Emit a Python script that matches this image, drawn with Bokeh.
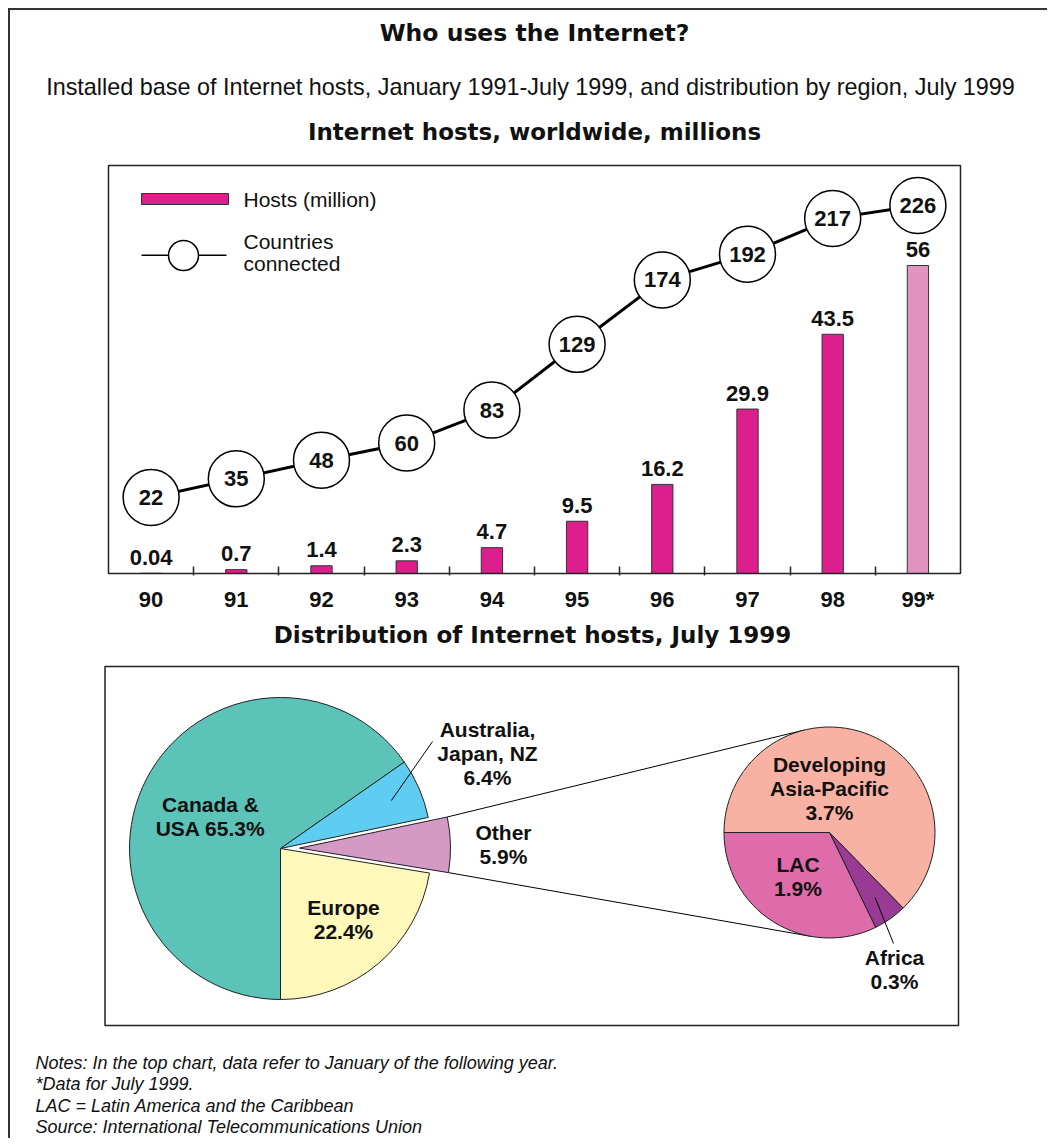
import math
from bokeh.plotting import figure
from bokeh.models import (Range1d, FixedTicker, BoxAnnotation, Arrow, Label, Div,
                          ColumnDataSource)
from bokeh.layouts import row, column
from bokeh.embed import file_html
from bokeh.resources import INLINE
from bokeh.core.properties import value

# ------------------------------------------------------------------ data
years = ["90", "91", "92", "93", "94", "95", "96", "97", "98", "99*"]
hosts_million = [0.04, 0.7, 1.4, 2.3, 4.7, 9.5, 16.2, 29.9, 43.5, 56]
countries_connected = [22, 35, 48, 60, 83, 129, 174, 192, 217, 226]

regions = ["Canada &\nUSA", "Australia,\nJapan, NZ", "Other", "Europe"]
region_share = [65.3, 6.4, 5.9, 22.4]
other_regions = ["Developing\nAsia-Pacific", "Africa", "LAC"]
other_share = [3.7, 0.3, 1.9]

notes = [
    "Notes: In the top chart, data refer to January of the following year.",
    "*Data for July 1999.",
    "LAC = Latin America and the Caribbean",
    "Source: International Telecommunications Union",
]

TITLE = "Who uses the Internet?"
SUBTITLE = ("Installed base of Internet hosts, January 1991-July 1999, "
            "and distribution by region, July 1999")
BAR_TITLE = "Internet hosts, worldwide, millions"
PIE_TITLE = "Distribution of Internet hosts, July 1999"

# ------------------------------------------------------------------ styles
HEAD_FONT = value("DejaVu Sans")
FONT = value("Liberation Sans")
INK = "#111111"
EDGE = "#222222"
MAGENTA = "#DD1F8D"
MAGENTA_LIGHT = "#E293C0"
PIE_COLORS = ["#5CC3B8", "#5FCDF2", "#D49AC5", "#FEF8BB"]
SUB_COLORS = ["#F7B2A4", "#993B95", "#DE6BAA"]

W = 1037          # content width (after 2px page border)
X0, Y0 = 10, 10   # page position of content


def canvas(h, y_top):
    p = figure(width=W, height=h,
               x_range=Range1d(X0, X0 + W), y_range=Range1d(y_top + h, y_top),
               x_axis_location=None, y_axis_location=None,
               toolbar_location=None, output_backend="svg", min_border=0)
    p.xgrid.visible = False
    p.ygrid.visible = False
    p.outline_line_color = None
    p.background_fill_color = "white"
    p.border_fill_color = "white"
    return p


def put_text(p, x, y, texts, size, style="bold", font=FONT, align="center",
             baseline="middle", color=INK):
    p.text(x=x, y=y, text=texts, text_font=font, text_font_size=size,
           text_font_style=style, text_align=align, text_baseline=baseline,
           text_color=color)


# ------------------------------------------------------------------ header
H_TOP, H_H = Y0, 150
head = canvas(H_H, H_TOP)
put_text(head, [534], [32.5], [TITLE], "23.5px", font=HEAD_FONT)
put_text(head, [530], [86], [SUBTITLE], "23.4px", style="normal")
put_text(head, [534], [131], [BAR_TITLE], "23px", font=HEAD_FONT)

# ------------------------------------------------------------------ bar chart
B_TOP, B_H = H_TOP + H_H, 460
FR_L, FR_R, FR_T, FR_B = 108, 960, 165, 573     # plot box on the page
n = len(years)
UNIT = (FR_R - FR_L) / n                          # px per category
S = 5.5                                           # px per million hosts
FRAME_BOTTOM = FR_B + 2
x_lo = -0.5 - (FR_L - X0) / UNIT
x_hi = n - 0.5 + (X0 + W - FR_R) / UNIT
y_lo = -(FRAME_BOTTOM - FR_B) / S
y_hi = (FR_B - B_TOP) / S
YBOX = (FR_B - FR_T) / S

bar = figure(width=W, height=B_H,
             x_range=Range1d(x_lo, x_hi), y_range=Range1d(y_lo, y_hi),
             y_axis_location=None, toolbar_location=None, output_backend="svg",
             min_border_left=0, min_border_right=0, min_border_top=0,
             min_border_bottom=B_TOP + B_H - FRAME_BOTTOM)
bar.xgrid.visible = False
bar.ygrid.visible = False
bar.outline_line_color = None

# countries scale (px per country ~1.43, 226 near the top of the box)
CS = 1.4309
c_top = 226 + (205 - B_TOP) / CS
c_bot = 226 - (FRAME_BOTTOM - 205) / CS
bar.extra_y_ranges = {"countries": Range1d(c_bot, c_top)}

idx = list(range(n))
bar_colors = [MAGENTA] * (n - 1) + [MAGENTA_LIGHT]
src = ColumnDataSource(dict(
    x=idx, hosts=hosts_million, countries=countries_connected,
    host_lab=[f"{v:g}" for v in hosts_million],
    cty_lab=[str(v) for v in countries_connected],
    color=bar_colors))

bar.vbar(x="x", top="hosts", width=0.25, source=src, fill_color="color",
         line_color="#333333", line_width=1)
bar.text(x="x", y="hosts", text="host_lab", source=src, y_offset=-16,
         text_font=FONT, text_font_size="22px", text_font_style="bold",
         text_align="center", text_baseline="alphabetic", text_color=INK)
bar.line(x="x", y="countries", source=src, y_range_name="countries",
         line_color="black", line_width=3)
bar.scatter(x="x", y="countries", source=src, y_range_name="countries",
            size=56, fill_color="white", line_color="black", line_width=1.5)
bar.text(x="x", y="countries", text="cty_lab", source=src,
         y_range_name="countries", text_font=FONT, text_font_size="22px",
         text_font_style="bold", text_align="center", text_baseline="middle",
         text_color=INK)

# plot box
bar.add_layout(BoxAnnotation(left=-0.5, right=n - 0.5, bottom=0, top=YBOX,
                             fill_alpha=0, line_color=EDGE, line_width=1.5,
                             line_alpha=1))

ax = bar.xaxis[0]
ax.ticker = FixedTicker(ticks=idx, minor_ticks=[i + 0.5 for i in idx[:-1]])
ax.major_label_overrides = {i: years[i] for i in idx}
ax.axis_line_color = None
ax.major_tick_line_color = None
ax.minor_tick_line_color = EDGE
ax.minor_tick_line_width = 1.5
ax.minor_tick_in = 9
ax.minor_tick_out = 0
ax.major_label_standoff = 5
ax.major_label_text_font = "Liberation Sans"
ax.major_label_text_font_size = "22px"
ax.major_label_text_font_style = "bold"
ax.major_label_text_color = INK


# legend (key) drawn as annotations, positioned in page pixels
def bx(px):
    return x_lo + (px - X0) / UNIT


def by(py):
    return y_hi - (py - B_TOP) / S


bar.add_layout(BoxAnnotation(left=bx(141), right=bx(228), top=by(193),
                             bottom=by(204), fill_color=MAGENTA, fill_alpha=1,
                             line_color="#333333", line_width=1, line_alpha=1))
bar.add_layout(Arrow(end=None, x_start=bx(141), y_start=by(254.7),
                     x_end=bx(226), y_end=by(254.7), line_color="black",
                     line_width=1.5))
bar.add_layout(BoxAnnotation(left=bx(168), right=bx(198), top=by(240),
                             bottom=by(270), border_radius=15,
                             fill_color="white", fill_alpha=1,
                             line_color="black", line_width=1.5, line_alpha=1))
for txt, py in [("Hosts (million)", 198.5), ("Countries", 241), ("connected", 263)]:
    bar.add_layout(Label(x=bx(243), y=by(py), text=txt, text_font="Liberation Sans",
                         text_font_size="21px", text_baseline="middle",
                         text_color=INK))

# ------------------------------------------------------------------ pies
P_TOP = B_TOP + B_H
P_H = 1138 - P_TOP
pie = canvas(P_H, P_TOP)
put_text(pie, [532], [634], [PIE_TITLE], "23px", font=HEAD_FONT)

pie.add_layout(BoxAnnotation(left=104.5, right=958, top=666, bottom=1025,
                             fill_alpha=0, line_color=EDGE, line_width=1.5,
                             line_alpha=1))

CX, CY, R = 280, 848, 151
SCX, SCY, SR = 829, 832, 105.5
EXPLODE = 19
other_i = regions.index("Other")

# main pie: clockwise from 6 o'clock
tot = sum(region_share)
cum = 0.0
m = dict(x=[], y=[], start=[], end=[], color=PIE_COLORS)
mids = []
for i, s in enumerate(region_share):
    a_end = 270 - cum / tot * 360
    cum += s
    a_start = 270 - cum / tot * 360
    mid = math.radians((a_start + a_end) / 2)
    mids.append(mid)
    off = EXPLODE if i == other_i else 0
    m["x"].append(CX + off * math.cos(mid))
    m["y"].append(CY - off * math.sin(mid))
    m["start"].append(math.radians(a_start))
    m["end"].append(math.radians(a_end))

# small pie: clockwise from 9 o'clock
stot = sum(other_share)
cum = 0.0
sm = dict(start=[], end=[], color=SUB_COLORS)
smids = []
for s in other_share:
    a_end = 180 - cum / stot * 360
    cum += s
    a_start = 180 - cum / stot * 360
    smids.append(math.radians((a_start + a_end) / 2))
    sm["start"].append(math.radians(a_start))
    sm["end"].append(math.radians(a_end))
sm["x"] = [SCX] * len(other_share)
sm["y"] = [SCY] * len(other_share)


# connector lines: from exploded slice corners, tangent to small pie
def tangent_point(px, py, cx, cy, r, sign):
    dx, dy = px - cx, -(py - cy)
    d = math.hypot(dx, dy)
    t = math.atan2(dy, dx) + sign * math.acos(r / d)
    return cx + r * math.cos(t), cy - r * math.sin(t)


ox, oy = m["x"][other_i], m["y"][other_i]
p_top = (ox + R * math.cos(m["end"][other_i]), oy - R * math.sin(m["end"][other_i]))
p_bot = (ox + R * math.cos(m["start"][other_i]), oy - R * math.sin(m["start"][other_i]))
t_top = tangent_point(*p_top, SCX, SCY, SR, -1)
t_bot = tangent_point(*p_bot, SCX, SCY, SR, +1)
pie.segment(x0=[p_top[0], p_bot[0]], y0=[p_top[1], p_bot[1]],
            x1=[t_top[0], t_bot[0]], y1=[t_top[1], t_bot[1]],
            line_color="black", line_width=1)

pie.wedge(x="x", y="y", radius=R, radius_units="screen", start_angle="start",
          end_angle="end", direction="anticlock", source=ColumnDataSource(m),
          fill_color="color", line_color=EDGE, line_width=1)
pie.wedge(x="x", y="y", radius=SR, radius_units="screen", start_angle="start",
          end_angle="end", direction="anticlock", source=ColumnDataSource(sm),
          fill_color="color", line_color=EDGE, line_width=1)

# leader lines
aus_i = 1
afr_i = other_regions.index("Africa")
lead_x0 = [CX + 0.8 * R * math.cos(mids[aus_i]), SCX + 0.75 * SR * math.cos(smids[afr_i])]
lead_y0 = [CY - 0.8 * R * math.sin(mids[aus_i]), SCY - 0.75 * SR * math.sin(smids[afr_i])]
pie.segment(x0=lead_x0, y0=lead_y0, x1=[432, 893], y1=[741, 943],
            line_color="black", line_width=1)

# labels
main_sep = [" ", "\n", "\n", "\n"]
main_pos = [(210, 816), (487, 753.3), (503, 844), (343, 919)]
sub_pos = [(829, 787.6), (894, 969), (797.5, 875.5)]
LINE = 24


def block(p, cx, cy, txt):
    lines = txt.split("\n")
    k = len(lines)
    ys = [cy + (j - (k - 1) / 2) * LINE for j in range(k)]
    put_text(p, [cx] * k, ys, lines, "21px")


for name, s, sep, (lx, ly) in zip(regions, region_share, main_sep, main_pos):
    block(pie, lx, ly, f"{name}{sep}{s}%")
for name, s, (lx, ly) in zip(other_regions, other_share, sub_pos):
    block(pie, lx, ly, f"{name}\n{s}%")

# notes
put_text(pie, [35] * len(notes), [1062 + 21.5 * j for j in range(len(notes))],
         notes, "18px", style="italic", align="left")

# ------------------------------------------------------------------ layout
left_rule = Div(text="", width=2, height=1130, margin=(0, 0, 0, 0),
                styles={"background-color": "#333333"})
top_rule = Div(text="", width=W, height=2, margin=(0, 0, 0, 0),
               styles={"background-color": "#333333"})
layout = row(left_rule, column(top_rule, head, bar, pie, spacing=0), spacing=0,
             margin=(8, 0, 0, 8))

with open("out.html", "w") as f:
    f.write(file_html(layout, INLINE))
